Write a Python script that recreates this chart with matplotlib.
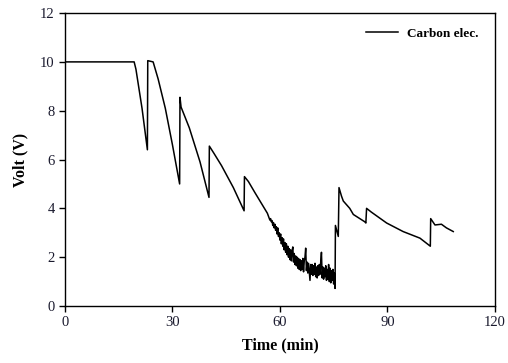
import numpy as np
import matplotlib
matplotlib.use('Agg')
import matplotlib.pyplot as plt

plt.rcParams['font.family'] = ['Liberation Serif', 'DejaVu Serif']

# Voltage trace (time in min, volt in V)
# smooth charge/discharge parts
time_a = [0.0, 19.3, 19.8, 21.5, 23.0, 23.1, 24.6, 26.0, 28.0, 30.0, 32.0,
          32.1, 32.4, 34.7, 37.7, 40.2,
          40.3, 41.6, 43.7, 47.0, 50.0,
          50.1, 51.2, 53.0, 55.4, 56.5]
volt_a = [10.0, 10.0, 9.7, 8.1, 6.4, 10.05, 10.0, 9.3, 8.1, 6.6, 5.0,
          8.55, 8.15, 7.3, 5.9, 4.45,
          6.55, 6.25, 5.75, 4.85, 3.9,
          5.3, 5.1, 4.65, 4.07, 3.8]

# noisy part, 57.0 .. 75.4 min
time_b = [57.0, 57.2, 57.4, 57.6, 57.8, 58.0, 58.2, 58.4, 58.6, 58.8,
          59.0, 59.2, 59.4, 59.6, 59.8, 60.0, 60.2, 60.4, 60.6, 60.8,
          61.0, 61.2, 61.4, 61.6, 61.8, 62.0, 62.2, 62.4, 62.6, 62.8,
          63.0, 63.2, 63.4, 63.6, 63.8, 64.0, 64.2, 64.4, 64.6, 64.8,
          65.0, 65.2, 65.4, 65.6, 65.8, 66.0, 66.2, 66.4, 66.6, 66.8,
          67.0, 67.2, 67.4, 67.6, 67.8, 68.0, 68.2, 68.4, 68.6, 68.8,
          69.0, 69.2, 69.4, 69.6, 69.8, 70.0, 70.2, 70.4, 70.6, 70.8,
          71.0, 71.2, 71.4, 71.6, 71.8, 72.0, 72.2, 72.4, 72.6, 72.8,
          73.0, 73.2, 73.4, 73.6, 73.8, 74.0, 74.2, 74.4, 74.6, 74.8,
          75.0, 75.2, 75.4]
volt_b = [3.60, 3.52, 3.58, 3.45, 3.50, 3.30, 3.42, 3.20, 3.35, 3.10,
          3.25, 2.95, 3.20, 2.85, 3.00, 2.70, 2.95, 2.55, 2.80, 2.45,
          2.75, 2.30, 2.60, 2.20, 2.55, 2.10, 2.45, 2.00, 2.35, 1.90,
          2.30, 1.85, 2.25, 2.42, 1.80, 2.15, 1.70, 2.05, 1.65, 2.00,
          1.55, 1.95, 1.50, 1.90, 1.45, 1.85, 1.50, 1.95, 1.40, 1.85,
          2.00, 2.37, 1.45, 1.80, 1.35, 1.75, 1.40, 1.05, 1.70, 1.30,
          1.70, 1.25, 1.65, 1.30, 1.75, 1.20, 1.60, 1.15, 1.65, 1.25,
          1.70, 1.30, 1.80, 2.20, 1.15, 1.60, 1.10, 1.55, 1.20, 1.65,
          1.05, 1.50, 1.10, 1.70, 1.00, 1.55, 0.95, 1.45, 1.05, 1.50,
          0.90, 1.35, 0.72]

# recovery part
time_c = [75.5, 76.3, 76.5, 77.2, 77.7, 79.5, 80.5, 83.7, 84.0,
          84.2, 85.5, 87.4, 89.8, 94.4, 99.1, 102.0,
          102.1, 103.3, 105.1, 106.5, 108.4]
volt_c = [3.3, 2.85, 4.85, 4.5, 4.3, 4.0, 3.75, 3.45, 3.4,
          4.0, 3.85, 3.65, 3.4, 3.05, 2.78, 2.45,
          3.58, 3.32, 3.35, 3.2, 3.05]

time_min = time_a + time_b + time_c
volt = volt_a + volt_b + volt_c

fig = plt.figure(figsize=(5.08, 3.63), dpi=100)
ax = fig.add_axes([0.128, 0.157, 0.846, 0.807])

ax.plot(time_min, volt, color='black', linewidth=1.1, label='Carbon elec.')

ax.set_xlim(0, 120)
ax.set_ylim(0, 12)
ax.set_xticks([0, 30, 60, 90, 120])
ax.set_yticks([0, 2, 4, 6, 8, 10, 12])
ax.tick_params(direction='out', length=4, width=1, labelsize=10.5,
               top=False, right=False, colors='black', labelcolor='#1a1a2e')
for s in ax.spines.values():
    s.set_linewidth(1.0)

ax.set_xlabel('Time (min)', fontsize=11.5, fontweight='bold', labelpad=6)
ax.set_ylabel('Volt (V)', fontsize=11.5, fontweight='bold', labelpad=8)

ax.legend(loc='upper right', frameon=False, handlelength=2.4, handletextpad=0.7,
          prop={'weight': 'bold', 'size': 9.5}, bbox_to_anchor=(0.99, 0.99))

fig.savefig('out.png', dpi=100)
